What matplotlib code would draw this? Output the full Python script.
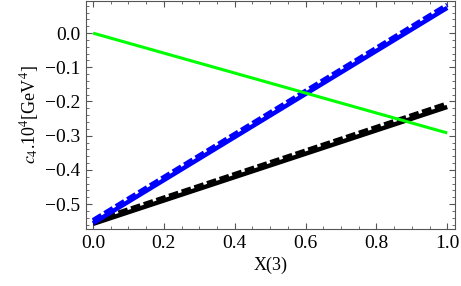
import numpy as np
import matplotlib
matplotlib.use("Agg")
import matplotlib.pyplot as plt
from matplotlib.ticker import MultipleLocator

plt.rcParams['font.family'] = ['Liberation Serif', 'DejaVu Serif']
plt.rcParams['mathtext.fontset'] = 'stix'

# end points of the straight lines, X(3) from 0 to 1
x = [0.0, 1.0]
green = [0.0, -0.292]
blue_solid = [-0.556, 0.074]
blue_dash = [-0.547, 0.083]
black_solid = [-0.558, -0.216]
black_dash = [-0.550, -0.206]

fig = plt.figure(figsize=(4.61, 2.86), dpi=100)
ax = fig.add_axes([86/461, 1 - 229/286, (455-86)/461, (229-1)/286])

ax.plot(x, black_solid, color='black', lw=3.2, solid_capstyle='butt')
ax.plot(x, black_dash, color='black', lw=3.2, ls=(0, (2.2, 0.8)), dash_capstyle='butt')
ax.plot(x, blue_solid, color='#0000ff', lw=3.2, solid_capstyle='butt')
ax.plot(x, blue_dash, color='#0000ff', lw=3.2, ls=(0, (2.2, 0.8)), dash_capstyle='butt')
ax.plot(x, green, color='#00ff00', lw=2.2, solid_capstyle='butt')

ax.set_xlim(-0.02, 1.022)
ax.set_ylim(-0.573, 0.094)
ax.xaxis.set_minor_locator(MultipleLocator(0.05))
ax.yaxis.set_minor_locator(MultipleLocator(0.02))
ax.set_xticks(np.arange(0, 1.01, 0.2))
ax.set_xticklabels(['0.0', '0.2', '0.4', '0.6', '0.8', '1.0'])
ax.set_yticks([0.0, -0.1, -0.2, -0.3, -0.4, -0.5])
ax.set_yticklabels(['0.0', '\u22120.1', '\u22120.2', '\u22120.3', '\u22120.4', '\u22120.5'])

ax.tick_params(which='both', direction='in', top=True, right=True,
               color='#555555', labelsize=14, pad=4)
ax.tick_params(which='major', length=4.5, width=0.8)
ax.tick_params(which='minor', length=2.5, width=0.6)
for s in ax.spines.values():
    s.set_color('#555555')
    s.set_linewidth(0.8)

ax.set_xlabel('X(3)', fontsize=13, labelpad=4)
ax.set_ylabel(r'$c_4$.10$^4$[GeV$^4$]', fontsize=13, labelpad=3)

fig.savefig('out.png', dpi=100)
